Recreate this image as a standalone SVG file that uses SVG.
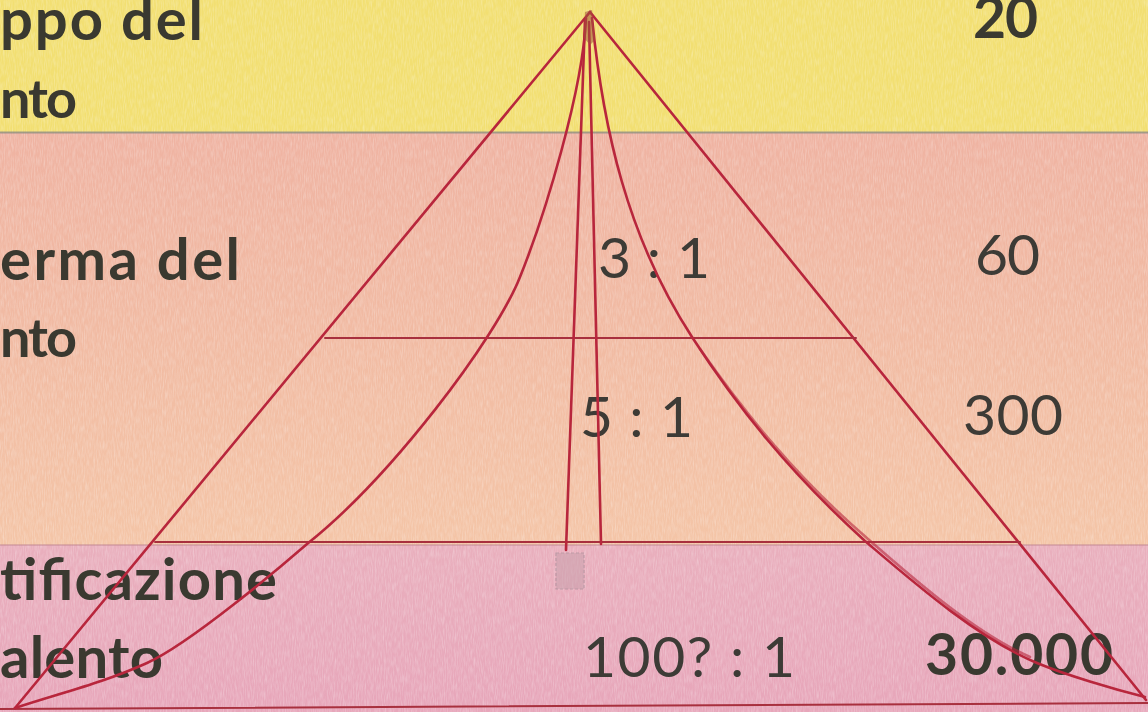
<svg xmlns="http://www.w3.org/2000/svg" width="1148" height="712" viewBox="0 0 1148 712">
<defs>
<linearGradient id="midBand" x1="0" y1="0" x2="0" y2="1">
<stop offset="0" stop-color="#efb3a2"/>
<stop offset="0.5" stop-color="#f1bba3"/>
<stop offset="1" stop-color="#f4c5a7"/>
</linearGradient>
<linearGradient id="lowBand" x1="0" y1="0" x2="0" y2="1">
<stop offset="0" stop-color="#e9afbd"/>
<stop offset="1" stop-color="#e7a6ba"/>
</linearGradient>
<filter id="grain" x="0" y="0" width="100%" height="100%">
<feTurbulence type="fractalNoise" baseFrequency="0.9 0.12" numOctaves="2" seed="4"/>
<feColorMatrix type="matrix" values="0 0 0 0 1  0 0 0 0 1  0 0 0 0 1  0 0 0 -1.4 0.9"/>
</filter>
<style>
.lbl{font-family:Lato,"Liberation Sans",sans-serif;font-weight:700;font-size:58px;fill:#3a3930}
.sm{font-size:54px}
.num{font-family:Lato,"Liberation Sans",sans-serif;font-size:57px;fill:#3d3b36}
.numb{font-family:Lato,"Liberation Sans",sans-serif;font-weight:700;font-size:57px;fill:#3a3930}
.ln{fill:none;stroke:#b8263c;stroke-width:2.6;stroke-linecap:round;stroke-linejoin:round}
.hl{fill:none;stroke:#a8303e;stroke-width:2;stroke-linecap:round}
</style>
</defs>

<g id="background">
<rect x="0" y="0" width="1148" height="133" fill="#f2df72"/>
<rect x="0" y="133" width="1148" height="412" fill="url(#midBand)"/>
<rect x="0" y="545" width="1148" height="167" fill="url(#lowBand)"/>
<rect x="0" y="0" width="1148" height="712" filter="url(#grain)" opacity="0.35"/>
<line x1="0" y1="132.5" x2="1148" y2="132.5" stroke="#8f8a86" stroke-width="2" opacity="0.8"/>
<line x1="0" y1="545" x2="1148" y2="545" stroke="#c48a95" stroke-width="2" opacity="0.5"/>
</g>

<g id="labels">
<text class="lbl" x="0" y="40" textLength="203" lengthAdjust="spacing">ppo del</text>
<text class="lbl sm" x="0" y="118" textLength="77" lengthAdjust="spacing">nto</text>
<text class="lbl" x="0" y="280" textLength="240" lengthAdjust="spacing">erma del</text>
<text class="lbl sm" x="0" y="357" textLength="77" lengthAdjust="spacing">nto</text>
<text class="lbl" x="0" y="600" textLength="277" lengthAdjust="spacing">tificazione</text>
<text class="lbl" x="0" y="678" textLength="163" lengthAdjust="spacing">alento</text>
</g>

<g id="numbers">
<text class="numb" x="973" y="38" textLength="65" lengthAdjust="spacing">20</text>
<text class="num" x="598" y="278" textLength="112" lengthAdjust="spacing">3 : 1</text>
<text class="num" x="975" y="275" textLength="65" lengthAdjust="spacing">60</text>
<text class="num" x="580" y="437" textLength="113" lengthAdjust="spacing">5 : 1</text>
<text class="num" x="963" y="435" textLength="100" lengthAdjust="spacing">300</text>
<text class="num" x="583" y="677" textLength="212" lengthAdjust="spacing">100? : 1</text>
<text class="numb" x="925" y="675" textLength="188" lengthAdjust="spacing">30.000</text>
</g>

<g id="connectors">
<path id="base" class="hl" d="M0,709 L1148,703"/>
<path id="left-side" class="ln" d="M590,12 L15,708"/>
<path id="right-side" class="ln" d="M590,12 L1146,700"/>
<path id="level-1" class="hl" d="M325,338 L856,338"/>
<path id="level-2" class="hl" d="M155,542 L1020,542"/>
<path id="left-curve" class="ln" d="M586,18 C583,90 545,215 520,277 C495,340 390,478 307,544 C284,564 191,643 147,663 C103,683 60,693 15,708"/>
<path id="right-curve" class="ln" d="M592,18 C603,128 627,237 692,337 C737.5,407 788,471 865,541 C912,581 977,638 1037,663 C1066,675 1113,689 1145,697"/>
<path class="ln" d="M700,349 C745,413 795,476 868,539 C915,580 975,633 1030,657" stroke-width="1.4" opacity="0.6"/>
<path id="left-vertical" class="ln" d="M585,20 L566,550"/>
<path id="right-vertical" class="ln" d="M589,22 L601,544"/>
</g>

<g id="marks">
<path d="M585,12 L592,10 L595,40 L590,45 L584,38 Z" fill="#a0523a" opacity="0.55"/>
<rect x="556" y="553" width="28" height="36" fill="#c9a0ac" stroke="#9a8590" stroke-width="1.2" stroke-dasharray="3 2" opacity="0.55"/>
</g>
</svg>
